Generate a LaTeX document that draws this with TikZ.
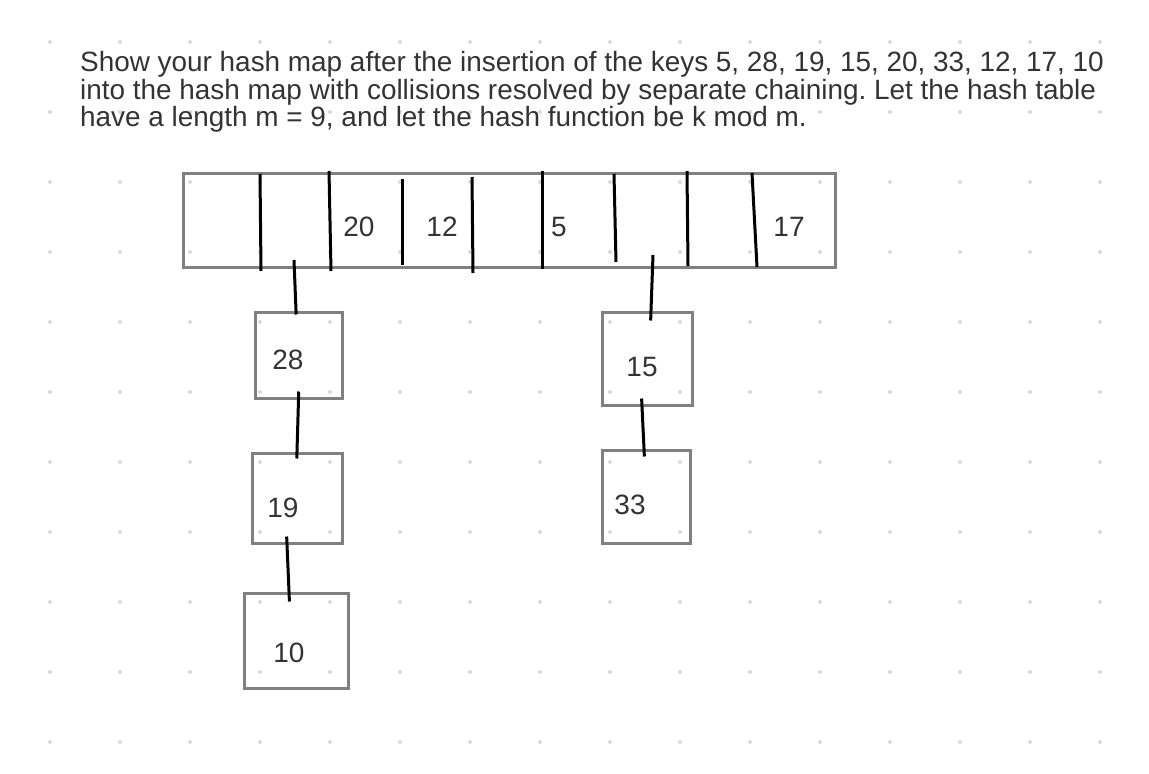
\documentclass[tikz,border=0pt]{standalone}
\usepackage{fontspec}
\setmainfont{Liberation Sans}
\frenchspacing
\definecolor{txt}{HTML}{333333}
\definecolor{edge}{HTML}{808080}
\definecolor{dot}{HTML}{D9D9D9}
\begin{document}
\begin{tikzpicture}[x=1pt,y=-1pt,
  box/.style={draw=edge,line width=3pt,inner sep=0pt},
  num/.style={text=txt,font=\fontsize{28}{28}\selectfont,inner sep=0pt},
  line/.style={text=txt,font=\fontsize{27.9}{28}\selectfont,inner sep=0pt,anchor=base west},
  bar/.style={draw=black,line width=3pt},
  link/.style={draw=black,line width=3pt}]
\useasboundingbox (0,0) rectangle (1149,774);
\foreach \i in {0,...,15}
  \foreach \j in {0,...,10}
    \fill[dot] (50+70*\i,42+70*\j) circle (2);

\node[line] (t1) at (80,71) {Show your hash map after the insertion of the keys 5, 28, 19, 15, 20, 33, 12, 17, 10};
\node[line] (t2) at (80,99) {into the hash map with collisions resolved by separate chaining. Let the hash table};
\node[line] (t3) at (80,126) {have a length m = 9, and let the hash function be k mod m.};

\node[box,minimum width=652pt,minimum height=94pt] (tab) at (509,220) {};
\foreach \xa/\ya/\xb/\yb in {260/174/261/271,329/171/331/271,402/179/402/265,472/177/473/273,
  542/171/542/269,614/174/616/262,687/171/688/266,752/173/757/267}
  \path[bar] (\xa,\ya) -- (\xb,\yb);
\node[num] (k20) at (359,227) {20};
\node[num] (k12) at (442,227) {12};
\node[num] (k5) at (559,227) {5};
\node[num] (k17) at (789,227) {17};

\node[box,minimum width=87pt,minimum height=86pt] (b28) at (298.5,355) {};
\node[box,minimum width=90pt,minimum height=90pt] (b19) at (297,498) {};
\node[box,minimum width=104pt,minimum height=95pt] (b10) at (296,640.5) {};
\node[box,minimum width=90pt,minimum height=93pt] (b15) at (647,358.5) {};
\node[box,minimum width=88pt,minimum height=93pt] (b33) at (646,496.5) {};
\node[num] (k28) at (288,360) {28};
\node[num] (k19) at (283,508) {19};
\node[num] (k10) at (289,653) {10};
\node[num] (k15) at (642,367) {15};
\node[num] (k33) at (630,505) {33};

\coordinate (c1) at (294,260);
\coordinate (c6) at (653,255);
\path[link,shorten >=-4pt] (c1) -- ([xshift=-2.5pt]b28.north);
\path[link,shorten >=-10pt] (c6) -- ([xshift=4pt]b15.north);
\path[link,shorten <=-8pt,shorten >=-7pt] (b28.south) -- (b19.north);
\path[link,shorten <=-8pt,shorten >=-10pt] ([xshift=-10pt]b19.south) -- ([xshift=-7pt]b10.north);
\path[link,shorten <=-8pt,shorten >=-8pt] ([xshift=-5pt]b15.south) -- ([xshift=-2pt]b33.north);
\end{tikzpicture}
\end{document}
